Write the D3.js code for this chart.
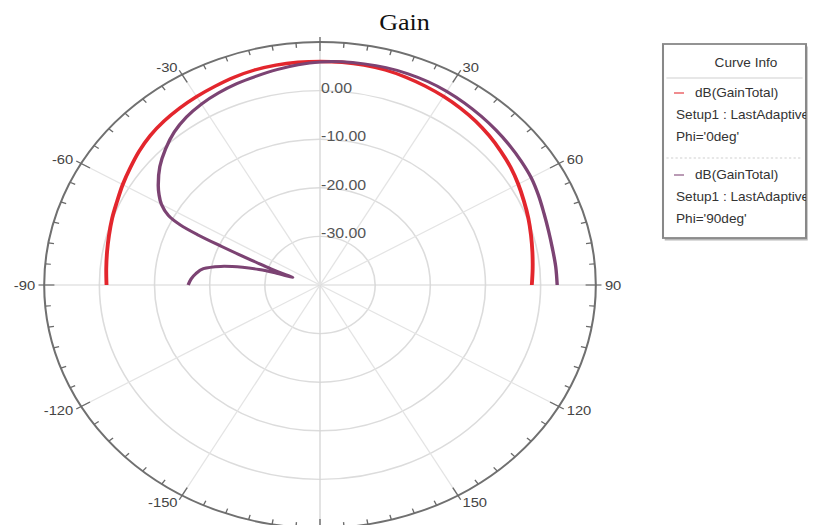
<!DOCTYPE html>
<html>
<head>
<meta charset="utf-8">
<script src="https://cdn.jsdelivr.net/npm/d3@7"></script>
<style>
  html, body { margin: 0; padding: 0; background: #ffffff; }
  svg { display: block; }
</style>
</head>
<body>
<svg id="chart" width="817" height="525"></svg>
<script>
// ---- Data -------------------------------------------------------------
const angleLabels = [-150, -120, -90, -60, -30, 30, 60, 90, 120, 150];
const radialTicks = [-30, -20, -10, 0];
const radialTickLabels = ["-30.00", "-20.00", "-10.00", "0.00"];
const radialDomain = [-40, 10];

// Phi = 0deg cut, theta in degrees
const phi0Theta = [-90, -85, -80, -75, -70, -65, -60, -55, -50, -45, -40, -35, -30, -25, -20, -15, -10, -5,
                   0, 5, 10, 15, 20, 25, 30, 35, 40, 45, 50, 55, 60, 65, 70, 75, 80, 85, 90];
const phi0Gain = [-1.3, -1.1, -0.8, -0.4, 0.1, 0.6, 1.3, 2.0, 2.8, 3.5, 4.0, 4.4, 4.75, 5.1, 5.5, 5.8, 5.95, 6.0,
                  6.0, 6.0, 5.95, 5.8, 5.5, 5.15, 4.8, 4.4, 3.95, 3.4, 2.8, 2.2, 1.5, 0.8, 0.2, -0.4, -0.9, -1.3, -1.6];

// Phi = 90deg cut, theta in degrees (denser around the null)
const phi90Theta = [-90, -87, -84, -81, -78, -75.5, -74, -73, -72.3, -71, -69.5, -68, -67, -66, -65, -64, -62.5,
                    -60, -57.5, -55, -50, -45, -40, -35, -30, -25, -20, -15, -10, -5,
                    0, 5, 10, 15, 20, 25, 30, 35, 40, 45, 50, 55, 60, 65, 70, 75, 80, 85, 90];
const phi90Gain = [-16.1, -16.6, -17.4, -18.6, -21.6, -25.5, -28.5, -31.5, -34.8, -33.0, -30.5, -27.5, -24.5, -20.5, -15.5, -11.8, -9.0,
                   -6.8, -5.4, -4.2, -2.1, -0.4, 1.1, 2.2, 3.0, 3.6, 4.1, 4.5, 5.0, 5.5,
                   5.9, 6.1, 6.2, 6.3, 6.3, 6.2, 6.0, 5.7, 5.4, 5.1, 4.8, 4.5, 4.2, 3.7, 3.2, 2.9, 2.8, 2.9, 3.0];

const chartTitle = "Gain";
const legendTitle = "Curve Info";
const legendLines = [
  ["dB(GainTotal)", "Setup1 : LastAdaptive", "Phi='0deg'"],
  ["dB(GainTotal)", "Setup1 : LastAdaptive", "Phi='90deg'"]
];
const seriesColors = ["#e3262d", "#7c4373"];

// ---- Layout -------------------------------------------------------------
const SX = 1.135;               // horizontal stretch of the whole drawing
const cx = 320 / SX, cy = 285, R = 243;
const FONT = "'Liberation Sans', Arial, Helvetica, sans-serif";

const svg = d3.select("#chart");
const root = svg.append("g").attr("transform", `scale(${SX},1)`);

const rScale = d3.scaleLinear().domain(radialDomain).range([0, R]);
const rad = d => d * Math.PI / 180;
const px = (a, rr) => cx + rr * Math.sin(rad(a));
const py = (a, rr) => cy - rr * Math.cos(rad(a));

// ---- Grid -------------------------------------------------------------
const grid = root.append("g");

grid.selectAll("circle.grid")
  .data(radialTicks)
  .join("circle")
  .attr("cx", cx).attr("cy", cy)
  .attr("r", d => rScale(d))
  .attr("fill", "none")
  .attr("stroke", "#dcdcdc")
  .attr("stroke-width", 1.4);

grid.selectAll("line.spoke")
  .data(d3.range(0, 360, 30))
  .join("line")
  .attr("x1", cx).attr("y1", cy)
  .attr("x2", d => px(d, R)).attr("y2", d => py(d, R))
  .attr("stroke", d => (d % 90 === 0) ? "#d6d6d6" : "#e4e4e4")
  .attr("stroke-width", 1.2);

// outer ring
grid.append("circle")
  .attr("cx", cx).attr("cy", cy).attr("r", R)
  .attr("fill", "none")
  .attr("stroke", "#707070")
  .attr("stroke-width", 1.8);

// ticks on the ring
grid.selectAll("line.tick")
  .data(d3.range(0, 360, 5))
  .join("line")
  .attr("x1", d => px(d, d % 30 === 0 ? R - 9 : R - 5))
  .attr("y1", d => py(d, d % 30 === 0 ? R - 9 : R - 5))
  .attr("x2", d => px(d, d % 30 === 0 ? R + 5 : R))
  .attr("y2", d => py(d, d % 30 === 0 ? R + 5 : R))
  .attr("stroke", "#6a6a6a")
  .attr("stroke-width", 1.2);

// angle labels
grid.selectAll("text.angle")
  .data(angleLabels)
  .join("text")
  .attr("x", d => px(d, R + 8))
  .attr("y", d => py(d, R + 8))
  .attr("dy", "0.35em")
  .attr("text-anchor", d => d < 0 ? "end" : "start")
  .attr("font-family", FONT)
  .attr("font-size", 13)
  .attr("fill", "#444")
  .text(d => d);

// radial labels
grid.selectAll("text.rlabel")
  .data(radialTicks)
  .join("text")
  .attr("x", cx + 1)
  .attr("y", d => cy - rScale(d) + 2)
  .attr("font-family", FONT)
  .attr("font-size", 14)
  .attr("fill", "#555")
  .text((d, i) => radialTickLabels[i]);

// ---- Curves -------------------------------------------------------------
const line = d3.line()
  .x(d => px(d[0], rScale(d[1])))
  .y(d => py(d[0], rScale(d[1])))
  .curve(d3.curveCatmullRom.alpha(0.5));

const series = [
  d3.zip(phi0Theta, phi0Gain),
  d3.zip(phi90Theta, phi90Gain)
];

root.append("g").selectAll("path")
  .data(series)
  .join("path")
  .attr("d", line)
  .attr("fill", "none")
  .attr("stroke", (d, i) => seriesColors[i])
  .attr("stroke-width", (d, i) => i === 0 ? 3.4 : 3.0)
  .attr("stroke-linejoin", "round")
  .attr("stroke-linecap", "butt");

// ---- Title -------------------------------------------------------------
root.append("text")
  .attr("x", 404.5 / SX)
  .attr("y", 30)
  .attr("text-anchor", "middle")
  .attr("font-family", "'Liberation Serif', 'Times New Roman', serif")
  .attr("font-size", 23)
  .attr("fill", "#111")
  .text(chartTitle);

// ---- Legend -------------------------------------------------------------
const lx0 = 663 / SX, lx1 = 806 / SX, ly0 = 44, ly1 = 238;
const legend = root.append("g");

svg.append("defs").append("clipPath").attr("id", "legclip")
  .append("rect")
  .attr("x", lx0).attr("y", ly0).attr("width", lx1 - lx0).attr("height", ly1 - ly0);

legend.append("rect")
  .attr("x", lx0 + 1.5).attr("y", ly0 + 2.5)
  .attr("width", lx1 - lx0).attr("height", ly1 - ly0)
  .attr("fill", "#b8b8b8");
legend.append("rect")
  .attr("x", lx0).attr("y", ly0)
  .attr("width", lx1 - lx0).attr("height", ly1 - ly0)
  .attr("fill", "#fff")
  .attr("stroke", "#888")
  .attr("stroke-width", 1.8);

legend.append("text")
  .attr("x", 746 / SX).attr("y", 67)
  .attr("text-anchor", "middle")
  .attr("font-family", FONT).attr("font-size", 12)
  .attr("fill", "#333")
  .text(legendTitle);

legend.append("line")
  .attr("x1", lx0 + 3).attr("x2", lx1 - 3)
  .attr("y1", 78).attr("y2", 78)
  .attr("stroke", "#cfcfcf").attr("stroke-width", 1);

legend.append("line")
  .attr("x1", lx0 + 3).attr("x2", lx1 - 3)
  .attr("y1", 158).attr("y2", 158)
  .attr("stroke", "#cfcfcf").attr("stroke-width", 1)
  .attr("stroke-dasharray", "2,2");

const entryTop = [97, 179];
const entries = legend.append("g").attr("clip-path", "url(#legclip)");
legendLines.forEach((lines, i) => {
  const y0 = entryTop[i];
  entries.append("line")
    .attr("x1", 674 / SX).attr("x2", 684 / SX)
    .attr("y1", y0 - 4).attr("y2", y0 - 4)
    .attr("stroke", seriesColors[i]).attr("stroke-width", 1.5)
    .attr("opacity", 0.7);
  lines.forEach((t, j) => {
    entries.append("text")
      .attr("x", (j === 0 ? 695 : 676) / SX)
      .attr("y", y0 + j * 22)
      .attr("font-family", FONT).attr("font-size", 12)
      .attr("fill", "#333")
      .text(t);
  });
});
</script>
</body>
</html>
